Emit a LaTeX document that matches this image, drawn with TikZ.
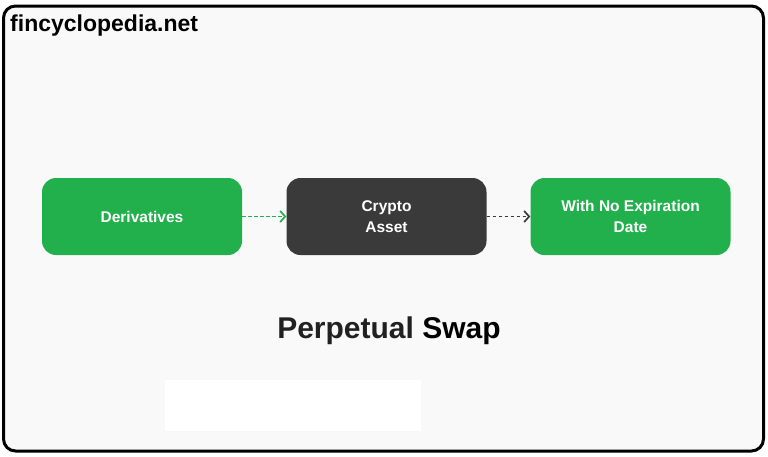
\documentclass[tikz,border=0pt]{standalone}
\usepackage{fontspec}
\setmainfont{Liberation Sans}
\usetikzlibrary{arrows.meta}
\definecolor{gbox}{RGB}{34,176,76}
\definecolor{dbox}{RGB}{58,58,58}
\definecolor{bg}{RGB}{249,249,249}
\tikzset{
  greenbox/.style={fill=gbox, rounded corners=14pt, minimum width=200pt, minimum height=77pt, text=white, font=\bfseries\fontsize{15.5}{21.5}\selectfont, align=center, inner sep=0pt},
  darkbox/.style={greenbox, fill=dbox},
  conn/.style={line width=1.7pt, -{Straight Barb[length=5pt,width=11pt]}, dash pattern=on 3.5pt off 2.5pt}
}
\begin{document}
\begin{tikzpicture}[x=1pt,y=-1pt]
\useasboundingbox (0,0) rectangle (768,456);
\fill[white] (0,0) rectangle (768,456);
\draw[line width=3pt, fill=bg, rounded corners=12pt] (3.5,6) rectangle (763.5,451);
\node[anchor=base west, inner sep=0pt, font=\bfseries\fontsize{23}{26}\selectfont] (site) at (10,31) {fincyclopedia.net};
\node[greenbox] (deriv) at (142,216.5) {Derivatives};
\node[darkbox] (crypto) at (386.5,216.5) {Crypto\\Asset};
\node[greenbox] (noexp) at (630.5,216.5) {With No Expiration\\Date};
\draw[conn, draw=gbox] (deriv) -- (crypto);
\draw[conn, draw=dbox] (crypto) -- (noexp);
\node[font=\bfseries\fontsize{30}{34}\selectfont, text=black!87] (title) at (389,331) {Perpetual \textcolor{black}{Swap}};
\fill[white] (165,380) rectangle (421,431);
\end{tikzpicture}
\end{document}
